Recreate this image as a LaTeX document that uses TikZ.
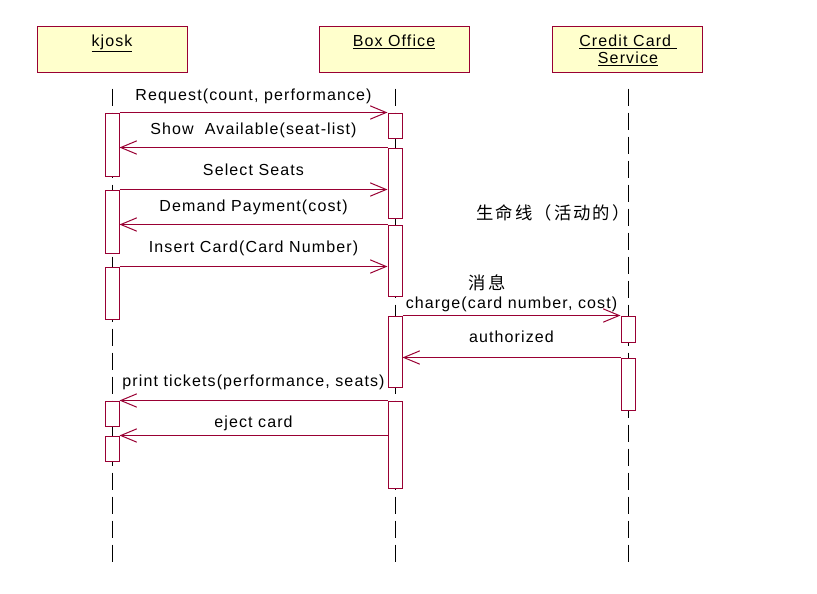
\documentclass[tikz,border=0pt]{standalone}
\usepackage{fontspec}
\setmainfont{Liberation Sans}[LetterSpace=7]
\newfontfamily\cjk{Noto Sans CJK SC}[LetterSpace=12]
\usepackage{tikz}
\usetikzlibrary{arrows.meta,fit}

\definecolor{seqred}{RGB}{153,0,51}
\definecolor{seqyellow}{RGB}{255,255,204}

\begin{document}
\begin{tikzpicture}[x=0.75pt,y=-0.75pt,
    head/.style={draw=seqred, fill=seqyellow, line width=0.75pt, minimum width=112.5pt, minimum height=34.5pt, inner sep=0pt},
    headtxt/.style={anchor=base, inner sep=0pt, font=\fontsize{12}{14}\selectfont},
    bar/.style={draw=seqred, fill=white, line width=0.75pt, inner sep=0pt},
    life/.style={line width=0.75pt, dash pattern=on 12.75pt off 5.25pt},
    msg/.style={draw=seqred, line width=0.75pt, -{Straight Barb[length=12pt,width=10pt,line width=0.75pt]}},
    lbl/.style={anchor=base, inner sep=0pt, font=\fontsize{12}{14}\selectfont},
    note/.style={inner sep=0pt, font=\cjk\fontsize{13}{15}\selectfont}]
    \useasboundingbox (0,0) rectangle (817,593);

    % Objects
    \node[head] (kjosk) at (112,49) {};
    \node[head] (office) at (394,49) {};
    \node[head] (credit) at (627.5,49) {};
    \node[headtxt] (kjosklbl) at (112,46) {\underline{kjosk}};
    \node[headtxt] (officelbl) at (394,46) {\underline{Box Office}};
    \node[headtxt] (creditlbl) at (628,46) {\underline{Credit Card\ }};
    \node[headtxt] (servicelbl) at (628,63) {\underline{Service}};

    % Lifelines
    \draw[life] ([yshift=-12pt]kjosk.south) -- ++(0,474);
    \draw[life] ([xshift=0.75pt,yshift=-12pt]office.south) -- ++(0,474);
    \draw[life] ([xshift=0.375pt,yshift=-12pt]credit.south) -- ++(0,474);

    % Activations
    \node[bar, fit={(105,113) (119,176)}] (k1) {};
    \node[bar, fit={(105,190) (119,253)}] (k2) {};
    \node[bar, fit={(105,267) (119,319)}] (k3) {};
    \node[bar, fit={(105,401) (119,426)}] (k4) {};
    \node[bar, fit={(105,436) (119,461)}] (k5) {};
    \node[bar, fit={(388,113) (402,138)}] (b1) {};
    \node[bar, fit={(388,148) (402,218)}] (b2) {};
    \node[bar, fit={(388,225) (402,296)}] (b3) {};
    \node[bar, fit={(388,316) (402,387)}] (b4) {};
    \node[bar, fit={(388,401) (402,488)}] (b5) {};
    \node[bar, fit={(621,316) (635,342)}] (c1) {};
    \node[bar, fit={(621,358) (635,410)}] (c2) {};

    % Messages
    \draw[msg] (k1.north east) -- node[lbl, yshift=9pt] {Request(count, performance)} (b1.north west);
    \draw[msg] (b2.north west) -- node[lbl, yshift=9.75pt] {Show\ \ Available(seat-list)} (k1.east |- b2.north);
    \draw[msg] (k2.north east) -- node[lbl, yshift=10.5pt] {Select Seats} (b2.west |- k2.north);
    \draw[msg] (b3.north west) -- node[lbl, yshift=9.75pt] {Demand Payment(cost)} (k2.east |- b3.north);
    \draw[msg] (k3.north east) -- node[lbl, yshift=10.5pt] {Insert Card(Card Number)} (b3.west |- k3.north);
    \draw[msg] (b4.north east) -- node[lbl, yshift=5.25pt] {charge(card number, cost)} (c1.north west);
    \draw[msg] (c2.north west) -- node[lbl, yshift=11.25pt] {authorized} (b4.east |- c2.north);
    \draw[msg] (b5.north west) -- node[lbl, yshift=10.5pt] {print tickets(performance, seats)} (k4.north east);
    \draw[msg] (b5.west |- k5.north) -- node[lbl, yshift=6pt] {eject card} (k5.north east);

    % Notes
    \node[note] (lifenote) at (553,213) {生命线（活动的）};
    \node[note] (msgnote) at (487,283) {消息};
\end{tikzpicture}
\end{document}
